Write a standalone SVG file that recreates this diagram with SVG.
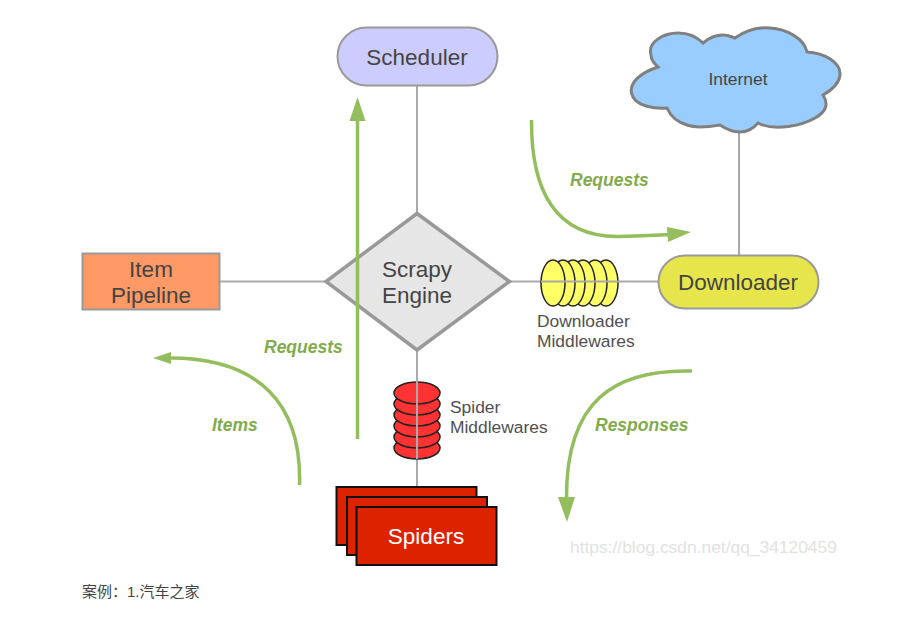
<svg xmlns="http://www.w3.org/2000/svg" width="918" height="624" viewBox="0 0 918 624">
<style>
text{font-family:"Liberation Sans",Arial,sans-serif;fill:#444}
.m{text-anchor:middle}
.lbl{font-size:17.400px;fill:#505050}
.big{font-size:22.500px}
.g{font-size:17.500px;font-weight:bold;font-style:italic;fill:#82ab4e}
.l{fill:none;stroke:#aaa;stroke-width:2}
.arr{fill:none;stroke:#94bd5e;stroke-width:3.500}
.head{fill:#94bd5e}
.y{fill:#ffff66;stroke:#222;stroke-width:1.500}
.r{fill:#ff3333;stroke:#222;stroke-width:1.500}
.s{fill:#dd2200;stroke:#111;stroke-width:2}
</style>
<rect width="918" height="624" fill="#fff"/>
<g id="connectors">
<path class="l" d="M417 86V213M417 350V487M220 281.500H327M509 281.500H658M739 130V256"/>
</g>
<g id="scheduler"><rect x="337.500" y="27.500" width="160" height="58" rx="29" fill="#ccccff" stroke="#999" stroke-width="2"/><text class="m big" x="417" y="65">Scheduler</text></g>
<g id="internet">
<path d="M651 55C647 42 664 33 678 33C690 33 698 38 703 43C710 37 717 35 723 35C728 35 732 37 735 38C745 31 757 27 770 28C786 29 804 38 807 52C824 53 841 62 840 75C839 85 830 91 823 95C829 104 826 112 815 118C803 125 775 132 758 123C752 130 746 132 740 132C733 132 726 129 720 125C708 127 695 128 687 125C677 122 670 115 667 108C654 109 638 106 633 97C629 90 632 82 640 76C645 72 652 69 658 67C654 63 651 60 651 55Z" fill="#99ccff" stroke="#808080" stroke-width="3"/>
<text class="m" x="738" y="85" font-size="17.400">Internet</text></g>
<g id="downloader"><rect x="658.500" y="255.500" width="160" height="53" rx="26.500" fill="#e6e64c" stroke="#999" stroke-width="2"/><text class="m big" x="738" y="290">Downloader</text></g>
<g id="engine"><path d="M417 213.500L509.500 281.500L417 350L326 281.500Z" fill="#e6e6e6" stroke="#999" stroke-width="3.500"/><text class="m big" x="417" y="277">Scrapy</text><text class="m big" x="417" y="303">Engine</text></g>
<g id="item-pipeline"><rect x="82.500" y="253.500" width="137" height="56" fill="#ff9966" stroke="#999" stroke-width="2"/><text class="m big" x="151" y="277">Item</text><text class="m big" x="151" y="303">Pipeline</text></g>
<g id="downloader-middlewares">
<ellipse class="y" cx="606" cy="283" rx="12" ry="23"/><ellipse class="y" cx="595" cy="283" rx="12" ry="23"/><ellipse class="y" cx="583" cy="283" rx="12" ry="23"/><ellipse class="y" cx="573" cy="283" rx="12" ry="23"/><ellipse class="y" cx="563" cy="283" rx="12" ry="23"/><ellipse class="y" cx="553" cy="283" rx="12" ry="23"/>
<path class="l" d="M541 281.500H619"/>
<text class="lbl" x="537" y="327">Downloader</text><text class="lbl" x="537" y="347">Middlewares</text></g>
<g id="spider-middlewares">
<ellipse class="r" cx="417" cy="448" rx="23" ry="11"/><ellipse class="r" cx="417" cy="437" rx="23" ry="11"/><ellipse class="r" cx="417" cy="426" rx="23" ry="11"/><ellipse class="r" cx="417" cy="415" rx="23" ry="11"/><ellipse class="r" cx="417" cy="404" rx="23" ry="11"/><ellipse class="r" cx="417" cy="393" rx="23" ry="11"/>
<path class="l" d="M417 380V459"/>
<text class="lbl" x="450" y="413">Spider</text><text class="lbl" x="450" y="433">Middlewares</text></g>
<g id="spiders"><rect class="s" x="336.500" y="487" width="140" height="58"/><rect class="s" x="347" y="497" width="140" height="58"/><rect class="s" x="356.500" y="507" width="140" height="58"/><text class="m big" x="426" y="544" style="fill:#fff">Spiders</text></g>
<g id="flows">
<path class="arr" d="M357.500 439V118"/><path class="head" d="M357.500 97L365.500 121H349.500Z"/>
<path class="arr" d="M531.500 120C531 190 555 238 620 236.500C640 236 655 235.500 670 234.500"/><path class="head" d="M691 232L668 242L667 227Z"/>
<path class="arr" d="M692 371C615 369 566 400 566.500 498"/><path class="head" d="M567 522L558 497H575Z"/>
<path class="arr" d="M299.500 485C302 405 260 358 170 358"/><path class="head" d="M153 358L171 352V364Z"/>
<text class="g" x="570" y="186">Requests</text>
<text class="g" x="264" y="353">Requests</text>
<text class="g" x="212" y="431">Items</text>
<text class="g" x="595" y="431">Responses</text>
</g>
<text x="570" y="553" font-size="17.400" style="fill:#e2e2e2">https://blog.csdn.net/qq_34120459</text>
<text x="82" y="597" font-size="15" style="font-family:'Liberation Sans','Noto Sans CJK SC',sans-serif">案例：1.汽车之家</text>
</svg>
